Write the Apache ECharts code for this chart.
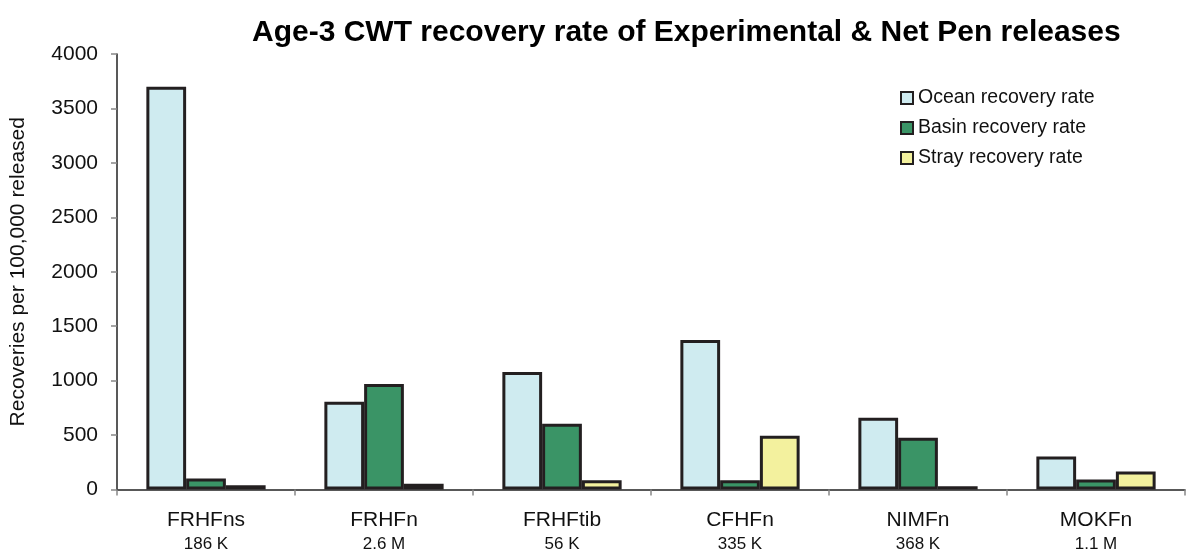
<!DOCTYPE html>
<html>
<head>
<meta charset="utf-8">
<script src="https://cdn.jsdelivr.net/npm/echarts@6/dist/echarts.min.js"></script>
<style>
  html, body { margin: 0; padding: 0; background: #ffffff; }
  #chart { width: 1186px; height: 553px; }
</style>
</head>
<body>
<div id="chart"></div>
<script>
// Release groups and their release sizes
const categories = ['FRHFns', 'FRHFn', 'FRHFtib', 'CFHFn', 'NIMFn', 'MOKFn'];
const releaseSizes = ['186 K', '2.6 M', '56 K', '335 K', '368 K', '1.1 M'];

// Recoveries per 100,000 released
const oceanRate = [3700, 805, 1080, 1373, 659, 302];
const basinRate = [100, 970, 604, 85, 476, 92];
const strayRate = [38, 52, 84, 494, 30, 165];

const yTicks = { min: 0, max: 4000, interval: 500 };

const FONT = 'Liberation Sans, Arial, sans-serif';
const EDGE = '#231f20';

const chart = echarts.init(document.getElementById('chart'), null, { renderer: 'canvas' });

function barSeries(name, data, color) {
  return {
    name: name,
    type: 'bar',
    data: data,
    barGap: '0%',
    barCategoryGap: '33%',
    itemStyle: { color: color, borderColor: EDGE, borderWidth: 3 },
    emphasis: { disabled: true }
  };
}

chart.setOption({
  animation: false,
  backgroundColor: '#ffffff',
  title: {
    text: 'Age-3 CWT recovery rate of Experimental & Net Pen releases',
    left: 247,
    top: 13,
    textStyle: { fontFamily: FONT, fontSize: 30, fontWeight: 'bold', color: '#000' }
  },
  legend: {
    orient: 'vertical',
    left: 895,
    top: 83,
    itemWidth: 12,
    itemHeight: 12,
    itemGap: 10,
    icon: 'rect',
    selectedMode: false,
    textStyle: { fontFamily: FONT, fontSize: 19.5, color: '#111', lineHeight: 20 },
    data: ['Ocean recovery rate', 'Basin recovery rate', 'Stray recovery rate']
  },
  grid: { left: 117, right: 1, top: 54, bottom: 62 },
  xAxis: {
    type: 'category',
    data: categories,
    axisLine: { lineStyle: { color: '#222', width: 1.5 } },
    axisTick: { show: true, length: 6, lineStyle: { color: '#888', width: 1.5 } },
    axisLabel: {
      margin: 18,
      interval: 0,
      formatter: function (value, idx) {
        return '{a|' + value + '}\n{b|' + releaseSizes[idx] + '}';
      },
      rich: {
        a: { fontFamily: FONT, fontSize: 21, lineHeight: 26, color: '#111' },
        b: { fontFamily: FONT, fontSize: 17, lineHeight: 22, color: '#111' }
      }
    }
  },
  yAxis: {
    type: 'value',
    min: yTicks.min,
    max: yTicks.max,
    interval: yTicks.interval,
    name: 'Recoveries per 100,000 released',
    nameLocation: 'middle',
    nameGap: 88,
    nameRotate: 90,
    nameTextStyle: { fontFamily: FONT, fontSize: 21, color: '#111' },
    axisLine: { show: true, lineStyle: { color: '#222', width: 1.5 } },
    axisTick: { show: true, length: 6, lineStyle: { color: '#888', width: 1.5 } },
    axisLabel: {
      margin: 19,
      fontFamily: FONT,
      fontSize: 21,
      color: '#111',
      formatter: function (v) { return String(v); }
    },
    splitLine: { show: false }
  },
  series: [
    barSeries('Ocean recovery rate', oceanRate, '#cfebf0'),
    barSeries('Basin recovery rate', basinRate, '#3a9466'),
    barSeries('Stray recovery rate', strayRate, '#f3f19e')
  ]
});
</script>
</body>
</html>
